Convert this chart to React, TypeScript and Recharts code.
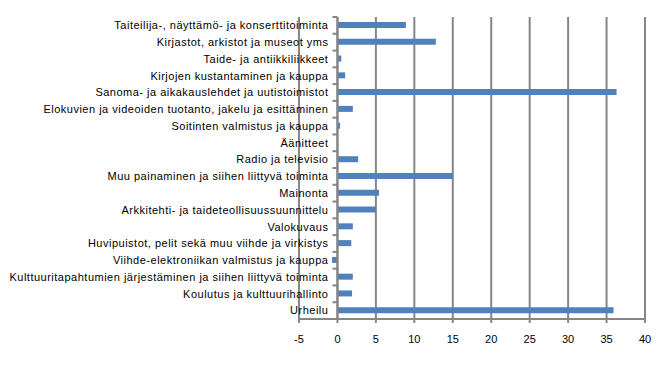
import React from 'react';
import { BarChart, Bar, XAxis, YAxis, CartesianGrid, ReferenceLine } from 'recharts';

const categories = [
    'Taiteilija-, näyttämö- ja konserttitoiminta',
    'Kirjastot, arkistot ja museot yms',
    'Taide- ja antiikkiliikkeet',
    'Kirjojen kustantaminen ja kauppa',
    'Sanoma- ja aikakauslehdet ja uutistoimistot',
    'Elokuvien ja videoiden tuotanto, jakelu ja esittäminen',
    'Soitinten valmistus ja kauppa',
    'Äänitteet',
    'Radio ja televisio',
    'Muu painaminen ja siihen liittyvä toiminta',
    'Mainonta',
    'Arkkitehti- ja taideteollisuussuunnittelu',
    'Valokuvaus',
    'Huvipuistot, pelit sekä muu viihde ja virkistys',
    'Viihde-elektroniikan valmistus ja kauppa',
    'Kulttuuritapahtumien järjestäminen ja siihen liittyvä toiminta',
    'Koulutus ja kulttuurihallinto',
    'Urheilu',
];

const values = [8.9, 12.8, 0.5, 1.0, 36.3, 2.0, 0.35, 0, 2.7, 15.0, 5.4, 5.0, 2.0, 1.8, -0.7, 2.0, 1.9, 35.9];

const xTicks = [-5, 0, 5, 10, 15, 20, 25, 30, 35, 40];

const data = categories.map((name, i) => ({ name, value: values[i] }));

const W = 668;
const H = 366;
const plotLeft = 299;
const plotRight = 645;
const plotTop = 17;
const plotBottom = 319;
const xMin = -5;
const xMax = 40;
const zeroX = plotLeft + ((0 - xMin) / (xMax - xMin)) * (plotRight - plotLeft);
const band = (plotBottom - plotTop) / categories.length;
const grey = '#868686';
const font = '"Liberation Sans", Arial, sans-serif';

function CategoryTick(props: any) {
    const { y, payload, index } = props;
    const top = y - band / 2;
    return <g>
        <line x1={zeroX - 5} x2={zeroX} y1={top} y2={top} stroke={grey} strokeWidth={2} />
        {index === categories.length - 1 &&
            <line x1={zeroX - 5} x2={zeroX} y1={top + band} y2={top + band} stroke={grey} strokeWidth={2} />}
        <text x={zeroX - 9} y={y} dy="0.35em" textAnchor="end" fontSize={11} letterSpacing={0.5}
            fontFamily={font} fill="#000">{payload.value}</text>
    </g>;
}

export default function App() {
    return <div style={{ position: 'absolute', left: 0, top: 0, width: W, height: H, background: '#fff' }}>
        <BarChart width={W} height={H} data={data} layout="vertical" barCategoryGap={0}
            margin={{ top: plotTop, right: W - plotRight, left: 0, bottom: 17 }}>
            <CartesianGrid horizontal={false} stroke={grey} strokeWidth={2} />
            <XAxis type="number" domain={[xMin, xMax]} ticks={xTicks} interval={0} height={H - plotBottom - 17}
                axisLine={{ stroke: grey, strokeWidth: 2 }} tickLine={{ stroke: grey, strokeWidth: 2 }}
                tickSize={4} tickMargin={12}
                tick={{ fontSize: 11, fill: '#000', fontFamily: font }} />
            <YAxis type="category" dataKey="name" width={plotLeft} axisLine={false} tickLine={false}
                interval={0} tick={<CategoryTick />} />
            <ReferenceLine x={0} stroke={grey} strokeWidth={2} />
            <Bar dataKey="value" fill="#4F81BD" barSize={6} isAnimationActive={false} />
        </BarChart>
    </div>;
}
